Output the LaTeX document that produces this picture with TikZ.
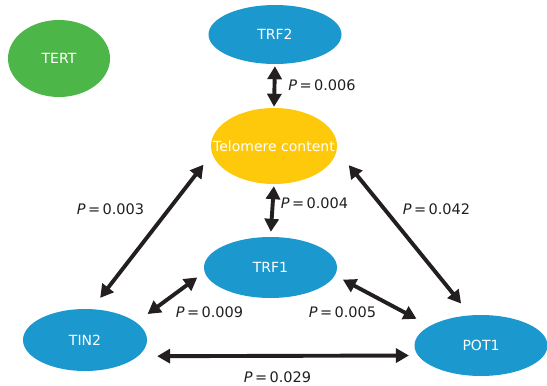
\documentclass[tikz,border=0pt]{standalone}
\usepackage{fontspec}
\setmainfont{DejaVu Sans}
\usetikzlibrary{shapes.geometric}
\usetikzlibrary{arrows.meta}

\definecolor{protblue}{HTML}{1B98CE}
\definecolor{tertgreen}{HTML}{4CB748}
\definecolor{telyellow}{HTML}{FDC90A}
\definecolor{arrowblack}{HTML}{231F20}

\begin{document}
\begin{tikzpicture}[x=1pt,y=-1pt,
  every node/.style={font=\fontsize{14}{16}\selectfont},
  prot/.style={ellipse,fill=protblue,text=white,inner sep=0pt,minimum width=133pt,minimum height=61pt},
  pval/.style={font=\fontsize{14.5}{17}\selectfont,text=arrowblack,inner sep=0pt},
  link/.style={draw=arrowblack,line width=3.9pt,{Triangle[length=13pt,width=14pt]}-{Triangle[length=13pt,width=14pt]}}]
\useasboundingbox (0,0) rectangle (547,386);

\node[prot,fill=tertgreen,minimum width=102pt,minimum height=77pt](tert) at (59,58.5) {TERT};
\node[prot,minimum height=59pt](trf2) at (275,34.5) {TRF2};
\node[prot,fill=telyellow,minimum width=126pt,minimum height=76pt](telo) at (274,146) {\makebox[0pt]{Telomere content}};
\node[prot](trf1) at (270.5,267.5) {TRF1};
\node[prot,minimum width=124pt,minimum height=62pt](tin2) at (85,340) {TIN2};
\node[prot](pot1) at (481,345.5) {POT1};

\node[pval](p006) at (322,85) {\textit{P}\,=\,0.006};
\node[pval](p004) at (314.5,203) {\textit{P}\,=\,0.004};
\node[pval](p003) at (110.5,209) {\textit{P}\,=\,0.003};
\node[pval](p042) at (436.5,209.5) {\textit{P}\,=\,0.042};
\node[pval](p009) at (209.5,312) {\textit{P}\,=\,0.009};
\node[pval](p005) at (342.5,312) {\textit{P}\,=\,0.005};
\node[pval](p029) at (277.5,377.5) {\textit{P}\,=\,0.029};

\draw[link,shorten <=2pt,shorten >=1pt] (trf2.south)--(telo.north);
\draw[link,shorten <=2pt,shorten >=5pt] (telo.south)--(trf1.north);
\draw[link,shorten <=14pt,shorten >=14pt] (telo.187.5)--(tin2.78);
\draw[link,shorten <=19pt,shorten >=15pt] (telo.356.4)--(pot1.109.6);
\draw[link,shorten <=14pt,shorten >=9pt] (tin2.19.5)--(trf1.184.8);
\draw[link,shorten <=9pt,shorten >=15pt] (trf1.353.6)--(pot1.159);
\draw[link,shorten <=19pt,shorten >=9pt] (tin2.343.2)--(pot1.189.6);
\end{tikzpicture}
\end{document}
